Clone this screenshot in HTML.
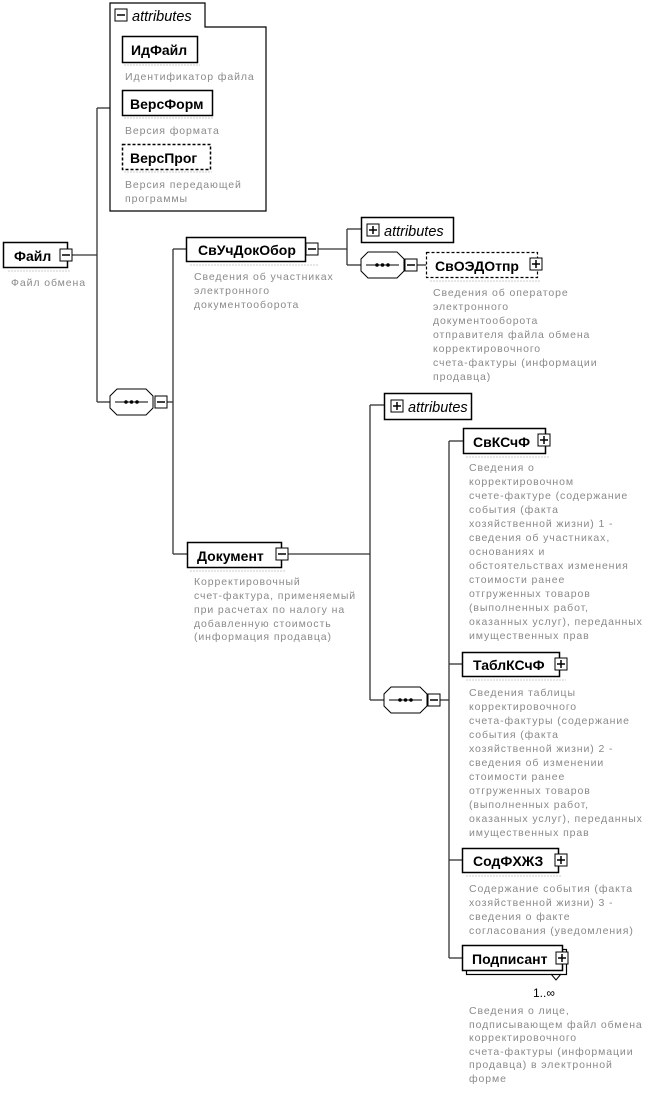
<!DOCTYPE html>
<html><head><meta charset="utf-8"><style>
html,body{margin:0;padding:0;background:#fff;}
svg{display:block;}
.b{font-family:"Liberation Sans","Noto Sans CJK SC",sans-serif;font-weight:bold;font-size:14px;fill:#000;}
.d{font-family:"Liberation Sans","Noto Sans CJK SC",sans-serif;font-size:10.5px;letter-spacing:0.9px;fill:#8a8a8a;}
.a{font-family:"Liberation Sans",sans-serif;font-style:italic;font-size:14.5px;fill:#000;}
</style></head><body>
<svg width="651" height="1094" viewBox="0 0 651 1094" xmlns="http://www.w3.org/2000/svg">
<defs>
<g id="minus"><rect x="0" y="0" width="12" height="12" fill="#fff" stroke="#000"/><line x1="2" y1="6" x2="10" y2="6" stroke="#000" stroke-width="1.5"/></g>
<g id="plus"><rect x="0" y="0" width="12" height="12" fill="#fff" stroke="#000"/><line x1="2" y1="6" x2="10" y2="6" stroke="#000" stroke-width="1.5"/><line x1="6" y1="2" x2="6" y2="10" stroke="#000" stroke-width="1.5"/></g>
<g id="seq"><polygon points="7,0 36,0 43,7 43,19 36,26 7,26 0,19 0,7" fill="#fff" stroke="#000"/><line x1="5" y1="13" x2="38" y2="13" stroke="#000"/><circle cx="16" cy="13" r="1.8"/><circle cx="21.5" cy="13" r="1.8"/><circle cx="27" cy="13" r="1.8"/></g>
</defs>
<g stroke="#333" stroke-width="1.3" fill="none">
<line x1="72" y1="255" x2="97" y2="255"/>
<line x1="97" y1="108" x2="97" y2="402"/>
<line x1="97" y1="108" x2="110" y2="108"/>
<line x1="97" y1="402" x2="110" y2="402"/>
<line x1="167" y1="402" x2="173" y2="402"/>
<line x1="173" y1="249" x2="173" y2="554"/>
<line x1="173" y1="249" x2="187" y2="249"/>
<line x1="173" y1="554" x2="187" y2="554"/>
<line x1="318" y1="249" x2="347" y2="249"/>
<line x1="347" y1="229" x2="347" y2="265"/>
<line x1="347" y1="229" x2="361" y2="229"/>
<line x1="347" y1="265" x2="361" y2="265"/>
<line x1="417" y1="265" x2="426" y2="265"/>
<line x1="287" y1="554" x2="370" y2="554"/>
<line x1="370" y1="405" x2="370" y2="700"/>
<line x1="370" y1="405" x2="384" y2="405"/>
<line x1="370" y1="700" x2="384" y2="700"/>
<line x1="440" y1="700" x2="449" y2="700"/>
<line x1="449" y1="441" x2="449" y2="958"/>
<line x1="449" y1="441" x2="463" y2="441"/>
<line x1="449" y1="664" x2="462" y2="664"/>
<line x1="449" y1="860" x2="462" y2="860"/>
<line x1="449" y1="958" x2="462" y2="958"/>
</g>
<path d="M110,3 H205 V27 H266 V211 H110 Z" fill="#fff" stroke="#000" stroke-width="1.2"/>
<use href="#minus" x="115" y="9"/>
<text class="a" x="132" y="21">attributes</text>
<rect x="122.5" y="36.5" width="75" height="26" fill="#fff" stroke="#000" stroke-width="1.5"/>
<text class="b" x="131" y="55">ИдФайл</text>
<line x1="124" y1="65" x2="200" y2="65" stroke="#ccc" stroke-dasharray="2,1"/>
<text class="d" x="125" y="80">Идентификатор файла</text>
<rect x="122.5" y="90.5" width="90" height="25" fill="#fff" stroke="#000" stroke-width="1.5"/>
<text class="b" x="130" y="109">ВерсФорм</text>
<line x1="124" y1="118" x2="214" y2="118" stroke="#ccc" stroke-dasharray="2,1"/>
<text class="d" x="125" y="134">Версия формата</text>
<rect x="122.5" y="144.5" width="88" height="25" fill="#fff" stroke="#000" stroke-width="1.5" stroke-dasharray="3,2"/>
<text class="b" x="130" y="163">ВерсПрог</text>
<line x1="124" y1="172" x2="212" y2="172" stroke="#ccc" stroke-dasharray="2,1"/>
<text class="d" x="125" y="188">Версия передающей</text>
<text class="d" x="125" y="202">программы</text>
<rect x="3.5" y="242.5" width="64" height="25" fill="#fff" stroke="#000" stroke-width="1.5"/>
<text class="b" x="14" y="261">Файл</text>
<use href="#minus" x="60" y="249"/>
<line x1="8" y1="271" x2="70" y2="271" stroke="#ccc" stroke-dasharray="2,1"/>
<text class="d" x="11" y="286">Файл обмена</text>
<use href="#seq" x="110" y="389"/>
<use href="#minus" x="155" y="396"/>
<rect x="186.5" y="237.5" width="119" height="24" fill="#fff" stroke="#000" stroke-width="1.5"/>
<text class="b" x="198" y="255">СвУчДокОбор</text>
<use href="#minus" x="306" y="243"/>
<line x1="190" y1="265" x2="318" y2="265" stroke="#ccc" stroke-dasharray="2,1"/>
<text class="d" x="194" y="280">Сведения об участниках</text>
<text class="d" x="194" y="294">электронного</text>
<text class="d" x="194" y="308">документооборота</text>
<rect x="361.5" y="217.5" width="92" height="25" fill="#fff" stroke="#000" stroke-width="1.5"/>
<use href="#plus" x="367" y="224"/>
<text class="a" x="384" y="236">attributes</text>
<use href="#seq" x="361" y="252"/>
<use href="#minus" x="405" y="259"/>
<rect x="426.5" y="252.5" width="111" height="25" fill="#fff" stroke="#000" stroke-width="1.2" stroke-dasharray="3,2"/>
<text class="b" x="435" y="271">СвОЭДОтпр</text>
<use href="#plus" x="530" y="258"/>
<line x1="430" y1="281" x2="540" y2="281" stroke="#ccc" stroke-dasharray="2,1"/>
<g class="d">
<text x="433" y="296">Сведения об операторе</text>
<text x="433" y="310">электронного</text>
<text x="433" y="324">документооборота</text>
<text x="433" y="338">отправителя файла обмена</text>
<text x="433" y="352">корректировочного</text>
<text x="433" y="366">счета-фактуры (информации</text>
<text x="433" y="380">продавца)</text>
</g>
<rect x="187.5" y="542.5" width="94" height="25" fill="#fff" stroke="#000" stroke-width="1.5"/>
<text class="b" x="197" y="561">Документ</text>
<use href="#minus" x="276" y="548"/>
<line x1="190" y1="571" x2="286" y2="571" stroke="#ccc" stroke-dasharray="2,1"/>
<g class="d">
<text x="194" y="585">Корректировочный</text>
<text x="194" y="599">счет-фактура, применяемый</text>
<text x="194" y="613">при расчетах по налогу на</text>
<text x="194" y="627">добавленную стоимость</text>
<text x="194" y="640">(информация продавца)</text>
</g>
<rect x="384.5" y="393.5" width="87" height="26" fill="#fff" stroke="#000" stroke-width="1.5"/>
<use href="#plus" x="391" y="400"/>
<text class="a" x="408" y="412">attributes</text>
<use href="#seq" x="384" y="687"/>
<use href="#minus" x="428" y="694"/>
<rect x="463.5" y="428.5" width="82" height="25" fill="#fff" stroke="#000" stroke-width="1.5"/>
<text class="b" x="473" y="447">СвКСчФ</text>
<use href="#plus" x="538" y="434"/>
<line x1="466" y1="457" x2="550" y2="457" stroke="#ccc" stroke-dasharray="2,1"/>
<g class="d">
<text x="469" y="471">Сведения о</text>
<text x="469" y="485">корректировочном</text>
<text x="469" y="499">счете-фактуре (содержание</text>
<text x="469" y="513">события (факта</text>
<text x="469" y="527">хозяйственной жизни) 1 -</text>
<text x="469" y="541">сведения об участниках,</text>
<text x="469" y="555">основаниях и</text>
<text x="469" y="569">обстоятельствах изменения</text>
<text x="469" y="583">стоимости ранее</text>
<text x="469" y="597">отгруженных товаров</text>
<text x="469" y="611">(выполненных работ,</text>
<text x="469" y="625">оказанных услуг), переданных</text>
<text x="469" y="639">имущественных прав</text>
</g>
<rect x="462.5" y="652.5" width="97" height="24" fill="#fff" stroke="#000" stroke-width="1.5"/>
<text class="b" x="473" y="670">ТаблКСчФ</text>
<use href="#plus" x="555" y="658"/>
<line x1="466" y1="680" x2="566" y2="680" stroke="#ccc" stroke-dasharray="2,1"/>
<g class="d">
<text x="469" y="696">Сведения таблицы</text>
<text x="469" y="710">корректировочного</text>
<text x="469" y="724">счета-фактуры (содержание</text>
<text x="469" y="738">события (факта</text>
<text x="469" y="752">хозяйственной жизни) 2 -</text>
<text x="469" y="766">сведения об изменении</text>
<text x="469" y="780">стоимости ранее</text>
<text x="469" y="794">отгруженных товаров</text>
<text x="469" y="808">(выполненных работ,</text>
<text x="469" y="822">оказанных услуг), переданных</text>
<text x="469" y="836">имущественных прав</text>
</g>
<rect x="462.5" y="848.5" width="96" height="24" fill="#fff" stroke="#000" stroke-width="1.5"/>
<text class="b" x="473" y="866">СодФХЖЗ</text>
<use href="#plus" x="555" y="854"/>
<line x1="466" y1="876" x2="562" y2="876" stroke="#ccc" stroke-dasharray="2,1"/>
<g class="d">
<text x="469" y="892">Содержание события (факта</text>
<text x="469" y="906">хозяйственной жизни) 3 -</text>
<text x="469" y="920">сведения о факте</text>
<text x="469" y="934">согласования (уведомления)</text>
</g>
<rect x="466.5" y="949.5" width="100" height="25" fill="#fff" stroke="#000" stroke-width="1.2"/>
<rect x="462.5" y="945.5" width="100" height="25" fill="#fff" stroke="#000" stroke-width="1.5"/>
<text class="b" x="472" y="964">Подписант</text>
<use href="#plus" x="556" y="952"/>
<polyline points="551,974 556,980 561,974" fill="none" stroke="#000"/>
<text class="b" x="533" y="997" style="font-weight:normal;font-size:12px">1..∞</text>
<g class="d">
<text x="469" y="1014">Сведения о лице,</text>
<text x="469" y="1028">подписывающем файл обмена</text>
<text x="469" y="1041">корректировочного</text>
<text x="469" y="1055">счета-фактуры (информации</text>
<text x="469" y="1068">продавца) в электронной</text>
<text x="469" y="1082">форме</text>
</g>
</svg>
</body></html>
